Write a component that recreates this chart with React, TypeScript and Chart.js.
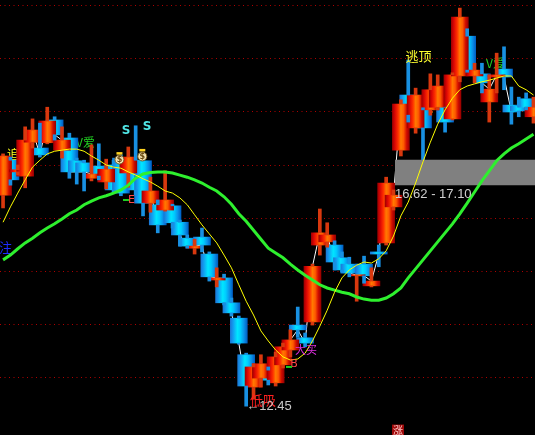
import React, { useEffect, useRef } from 'react';
import { Chart, registerables } from 'chart.js';

Chart.register(...registerables);

// Daily bars, oldest first
const opens = [
  16.43, 17.09, 16.87, 16.79, 17.43, 17.32, 17.42, 17.85, 17.28, 17.51,
  17.08, 17.04, 16.75, 16.98, 16.68, 17.00, 17.13, 16.85, 17.09, 17.08,
  16.28, 16.25, 16.15, 16.23, 15.92, 15.62, 15.43, 15.64, 15.32, 14.83,
  14.87, 14.40, 14.11, 13.42, 12.81, 12.98, 13.13, 12.89, 13.23, 13.51,
  13.98, 13.74, 14.04, 15.49, 15.55, 15.49, 15.25, 15.13, 14.91, 15.13,
  14.72, 15.36, 15.53, 16.21, 17.28, 18.32, 17.70, 18.04, 18.04, 18.09,
  18.09, 17.87, 18.68, 19.43, 18.68, 18.72, 18.19, 18.66, 18.81, 18.13,
  18.11, 18.25, 17.91,
];
const highs = [
  17.21, 17.15, 17.00, 17.72, 17.87, 17.79, 18.09, 17.91, 17.72, 17.60,
  17.13, 17.09, 17.38, 17.40, 17.11, 17.09, 17.19, 17.34, 17.74, 17.13,
  16.77, 16.34, 16.89, 16.26, 15.96, 15.68, 15.60, 15.81, 15.36, 15.06,
  14.94, 14.49, 14.15, 13.45, 13.25, 13.42, 13.19, 13.47, 13.64, 13.89,
  14.32, 13.83, 15.13, 16.17, 15.91, 15.57, 15.36, 15.26, 14.92, 15.28,
  15.06, 15.49, 16.77, 16.53, 18.23, 18.98, 18.45, 18.08, 18.72, 18.70,
  18.09, 18.74, 19.96, 19.57, 18.92, 18.92, 18.70, 19.11, 19.23, 18.47,
  18.28, 18.36, 18.28,
];
const lows = [
  16.19, 16.62, 16.81, 16.57, 17.32, 17.15, 17.40, 17.47, 17.13, 16.75,
  16.64, 16.51, 16.70, 16.72, 16.55, 16.47, 16.42, 16.58, 16.43, 16.04,
  16.11, 15.72, 16.13, 15.81, 15.47, 15.43, 15.32, 15.36, 14.81, 14.70,
  14.36, 14.15, 13.62, 12.45, 12.58, 12.81, 12.85, 12.83, 13.17, 13.38,
  13.75, 13.57, 13.98, 15.30, 15.45, 15.02, 14.98, 14.89, 14.43, 14.77,
  14.70, 15.08, 15.49, 16.15, 17.17, 17.81, 17.60, 17.06, 17.94, 18.04,
  17.62, 17.85, 18.57, 18.75, 18.55, 18.36, 17.81, 18.36, 18.42, 17.77,
  17.91, 18.04, 17.79,
];
const closes = [
  17.17, 16.72, 16.91, 17.47, 17.66, 17.19, 17.83, 17.57, 17.47, 16.87,
  16.87, 16.87, 16.83, 16.79, 16.92, 16.53, 16.47, 17.15, 16.53, 16.28,
  16.51, 15.87, 16.34, 15.91, 15.68, 15.47, 15.47, 15.49, 14.89, 14.87,
  14.40, 14.21, 13.64, 12.83, 13.19, 13.25, 12.94, 13.38, 13.57, 13.70,
  13.89, 13.64, 15.09, 15.72, 15.68, 15.17, 15.02, 14.96, 14.92, 14.91,
  14.81, 15.32, 16.66, 16.43, 18.15, 17.94, 18.32, 17.70, 18.42, 18.49,
  17.81, 18.70, 19.79, 18.79, 18.79, 18.55, 18.43, 18.70, 18.66, 18.00,
  18.02, 18.09, 18.09,
];

// Short moving average (yellow)
const maShort = [
  15.92, 16.21, 16.47, 16.72, 16.96, 17.09, 17.21, 17.26, 17.28, 17.30,
  17.30, 17.26, 17.17, 17.09, 17.00, 16.96, 16.94, 16.87, 16.81, 16.74,
  16.68, 16.60, 16.51, 16.47, 16.38, 16.25, 16.06, 15.87, 15.70, 15.53,
  15.30, 15.06, 14.74, 14.43, 14.17, 13.87, 13.68, 13.51, 13.38, 13.32,
  13.34, 13.45, 13.68, 13.96, 14.26, 14.60, 14.87, 15.02, 15.11, 15.17,
  15.15, 15.23, 15.38, 15.66, 16.04, 16.30, 16.66, 17.06, 17.43, 17.77,
  18.04, 18.26, 18.42, 18.49, 18.53, 18.57, 18.60, 18.64, 18.68, 18.68,
  18.49, 18.42, 18.32,
];
// Long moving average (green)
const maLong = [
  15.21, 15.30, 15.42, 15.53, 15.62, 15.72, 15.81, 15.89, 15.98, 16.08,
  16.15, 16.25, 16.32, 16.38, 16.42, 16.47, 16.53, 16.62, 16.75, 16.83,
  16.86, 16.87, 16.87, 16.85, 16.81, 16.77, 16.72, 16.66, 16.58, 16.51,
  16.40, 16.26, 16.08, 15.94, 15.77, 15.60, 15.43, 15.34, 15.25, 15.13,
  15.02, 14.92, 14.83, 14.74, 14.68, 14.64, 14.60, 14.57, 14.51, 14.47,
  14.45, 14.45, 14.49, 14.57, 14.68, 14.87, 15.04, 15.21, 15.38, 15.55,
  15.72, 15.89, 16.08, 16.28, 16.49, 16.70, 16.89, 17.08, 17.21, 17.32,
  17.40, 17.49, 17.58,
];

// Dotted price levels
const gridLevels = [13, 14, 15, 16, 17, 18, 19, 20];

// Grey price zone, starting at this bar index
const zoneLow = 16.62;
const zoneHigh = 17.1;
const zoneStart = 53.2;

// Visible window
const PRICE_MIN = 11.906;
const PRICE_MAX = 20.113;
const INDEX_MIN = -0.415;
const INDEX_MAX = 72.205;

const BODY_W = 17;
const WICK_W = 3;

const RED_STOPS: [number, string][] = [
  [0, '#a00000'], [0.14, '#d80404'], [0.34, '#ff3000'], [0.5, '#ff7a00'],
  [0.66, '#ff5a00'], [0.84, '#d00c00'], [1, '#980000'],
];
const BLUE_STOPS: [number, string][] = [
  [0, '#1a78d6'], [0.18, '#12a0f2'], [0.42, '#00e6ff'], [0.6, '#00ccff'],
  [0.8, '#0a94ea'], [1, '#005ec4'],
];

type Tag = {
  text: string;
  at: [number, number];
  color: string;
  font: string;
  align?: CanvasTextAlign;
  dy?: number;
  under?: boolean;
};

const CJK = '"Noto Sans CJK SC"';
const lowIdx = lows.indexOf(Math.min(...lows));

const tags: Tag[] = [
  { text: '关注', at: [1.21, 15.45], color: '#1e2cff', font: `13px ${CJK}`, align: 'right', under: true },
  { text: '追', at: [1.35, 17.19], color: '#ffff20', font: `12px ${CJK}`, under: true },
  { text: 'V爱', at: [12.48, 17.42], color: '#22d022', font: `12px ${CJK}`, align: 'right', under: true },
  { text: '追', at: [57.55, 18.09], color: '#ffff20', font: `12px ${CJK}`, under: true },
  { text: 'V爱', at: [68.13, 18.92], color: '#22d022', font: `12px ${CJK}`, align: 'right', under: true },
  { text: 'S', at: [16.69, 17.64], color: '#50e6e6', font: 'bold 12px "DejaVu Sans"' },
  { text: 'S', at: [19.54, 17.72], color: '#50e6e6', font: 'bold 12px "DejaVu Sans"' },
  { text: '逃顶', at: [56.4, 19.06], color: '#ffff30', font: `13px ${CJK}` },
  { text: 'E', at: [17.44, 16.34], color: '#ff4848', font: '11px "DejaVu Sans"' },
  { text: 'B', at: [39.49, 13.25], color: '#ff4848', font: '11px "DejaVu Sans"' },
  { text: '大买', at: [41.12, 13.51], color: '#e030e0', font: `11px ${CJK}` },
  { text: '低吸', at: [35.28, 12.57], color: '#ff2020', font: `13px ${CJK}` },
  {
    text: `←${lows[lowIdx].toFixed(2)}`, at: [lowIdx, lows[lowIdx]], color: '#c8c8c8',
    font: '13px "Liberation Sans", "DejaVu Sans"', align: 'left',
  },
  {
    text: `${zoneLow.toFixed(2)} - ${zoneHigh.toFixed(2)}`, at: [zoneStart, zoneLow], color: '#d0d0d0',
    font: '13px "Liberation Sans", "DejaVu Sans"', align: 'left', dy: 9,
  },
];

// little green ticks that sit beside the E / B signals
const signalDashes: [number, number][] = [[16.69, 16.34], [38.81, 13.19]];
// money-bag markers
const bags: [number, number][] = [[15.8, 17.13], [18.9, 17.19]];
// small boxed marker at the bottom edge
const boxMark = { text: '涨', at: [53.61, 11.99] as [number, number] };

const bars = opens.map((_, i) => i);
const upBars = bars.filter((i) => closes[i] >= opens[i]);
const downBars = bars.filter((i) => closes[i] < opens[i]);

const bodyData = (list: number[]) =>
  list.map((i) => ({ x: i, y: [Math.min(opens[i], closes[i]), Math.max(opens[i], closes[i])] }));
const wickData = (list: number[]) =>
  list.flatMap((i) => [
    { x: i, y: [Math.max(opens[i], closes[i]), highs[i]] },
    { x: i, y: [lows[i], Math.min(opens[i], closes[i])] },
  ]);

// horizontal shading across each candle body
const gradientFill = (stops: [number, string][]) => (ctx: any) => {
  const chart = ctx.chart;
  const xs = chart.scales && chart.scales.x;
  const fallback = stops[3][1];
  if (!xs || !ctx.raw) return fallback;
  const cx = xs.getPixelForValue(ctx.raw.x);
  if (!Number.isFinite(cx)) return fallback;
  const g = chart.ctx.createLinearGradient(cx - BODY_W / 2, 0, cx + BODY_W / 2, 0);
  stops.forEach(([o, c]) => g.addColorStop(o, c));
  return g;
};

function drawBag(c: CanvasRenderingContext2D, cx: number, cy: number) {
  c.save();
  c.fillStyle = '#f2e4b4';
  c.strokeStyle = '#7a5a20';
  c.lineWidth = 1;
  c.beginPath();
  c.ellipse(cx, cy + 1.5, 4.5, 4.5, 0, 0, Math.PI * 2);
  c.fill();
  c.stroke();
  c.fillStyle = '#ffd21f';
  c.fillRect(cx - 3, cy - 6, 6, 2.5);
  c.fillStyle = '#6b4a10';
  c.font = 'bold 8px "DejaVu Sans"';
  c.textAlign = 'center';
  c.textBaseline = 'middle';
  c.fillText('$', cx, cy + 2);
  c.restore();
}

function drawTags(chart: any, under: boolean) {
  const { ctx } = chart;
  const xs = chart.scales.x;
  const ys = chart.scales.y;
  ctx.save();
  tags
    .filter((t) => !!t.under === under)
    .forEach((t) => {
      ctx.font = t.font;
      ctx.fillStyle = t.color;
      ctx.textAlign = t.align || 'center';
      ctx.textBaseline = 'middle';
      ctx.fillText(t.text, xs.getPixelForValue(t.at[0]), ys.getPixelForValue(t.at[1]) + (t.dy || 0));
    });
  ctx.restore();
}

const markers = {
  id: 'markers',
  beforeDatasetsDraw(chart: any) {
    drawTags(chart, true);
  },
  afterDatasetsDraw(chart: any) {
    const { ctx } = chart;
    const xs = chart.scales.x;
    const ys = chart.scales.y;
    drawTags(chart, false);
    ctx.save();
    ctx.strokeStyle = '#20d020';
    ctx.lineWidth = 2;
    signalDashes.forEach(([i, p]) => {
      const px = xs.getPixelForValue(i);
      const py = ys.getPixelForValue(p);
      ctx.beginPath();
      ctx.moveTo(px - 3, py);
      ctx.lineTo(px + 3, py);
      ctx.stroke();
    });
    ctx.restore();
    bags.forEach(([i, p]) => drawBag(ctx, xs.getPixelForValue(i), ys.getPixelForValue(p)));
    const bx = xs.getPixelForValue(boxMark.at[0]);
    const by = ys.getPixelForValue(boxMark.at[1]);
    ctx.save();
    ctx.fillStyle = '#a00a0a';
    ctx.fillRect(bx - 6, by - 6, 12, 12);
    ctx.fillStyle = '#ffc8c8';
    ctx.font = `10px ${CJK}`;
    ctx.textAlign = 'center';
    ctx.textBaseline = 'middle';
    ctx.fillText(boxMark.text, bx, by);
    ctx.restore();
  },
};

export default function App() {
  const ref = useRef<HTMLCanvasElement | null>(null);

  useEffect(() => {
    if (!ref.current) return;
    const line = (data: number[], color: string, width: number, order: number) => ({
      type: 'line' as const,
      data: data.map((v, i) => ({ x: i, y: v })),
      borderColor: color,
      borderWidth: width,
      pointRadius: 0,
      tension: 0,
      fill: false,
      order,
    });

    const chart = new Chart(ref.current, {
      type: 'bar',
      data: {
        datasets: [
          line(maShort, '#ffff00', 1, 1) as any,
          line(maLong, '#2ef02e', 3, 2) as any,
          {
            type: 'line',
            data: [
              { x: zoneStart, y: zoneHigh },
              { x: opens.length, y: zoneHigh },
            ],
            borderWidth: 0,
            pointRadius: 0,
            backgroundColor: '#808080',
            fill: { value: zoneLow },
            order: 3,
          } as any,
          {
            data: wickData(upBars) as any,
            backgroundColor: '#d8380e',
            barThickness: WICK_W,
            grouped: false,
            borderWidth: 0,
            order: 4,
          },
          {
            data: wickData(downBars) as any,
            backgroundColor: '#1890e2',
            barThickness: WICK_W,
            grouped: false,
            borderWidth: 0,
            order: 5,
          },
          {
            data: bodyData(upBars) as any,
            backgroundColor: gradientFill(RED_STOPS),
            barThickness: BODY_W,
            grouped: false,
            borderWidth: 0,
            minBarLength: 1,
            order: 6,
          },
          {
            data: bodyData(downBars) as any,
            backgroundColor: gradientFill(BLUE_STOPS),
            barThickness: BODY_W,
            grouped: false,
            borderWidth: 0,
            minBarLength: 1,
            order: 7,
          },
          line(closes, '#ffffff', 1, 8) as any,
        ],
      },
      options: {
        animation: false,
        responsive: false,
        maintainAspectRatio: false,
        events: [],
        layout: { padding: 0, autoPadding: false },
        plugins: { legend: { display: false }, tooltip: { enabled: false } },
        scales: {
          x: {
            type: 'linear',
            min: INDEX_MIN,
            max: INDEX_MAX,
            offset: false,
            display: false,
          },
          y: {
            type: 'linear',
            min: PRICE_MIN,
            max: PRICE_MAX,
            ticks: { display: false },
            grid: { color: '#b00000', lineWidth: 1, drawTicks: false },
            border: { display: false, dash: [1, 3.5] },
            afterBuildTicks: (s: any) => {
              s.ticks = gridLevels.map((v) => ({ value: v }));
            },
            afterFit: (s: any) => {
              s.width = 0;
            },
          },
        },
      },
      plugins: [markers],
    });
    // second pass so the body shading is built against the laid-out scale
    chart.update();
    return () => chart.destroy();
  }, []);

  return (
    <div style={{ position: 'fixed', left: 0, top: 0, width: 535, height: 435, background: '#000' }}>
      <canvas ref={ref} width={535} height={435} style={{ display: 'block' }} />
    </div>
  );
}
